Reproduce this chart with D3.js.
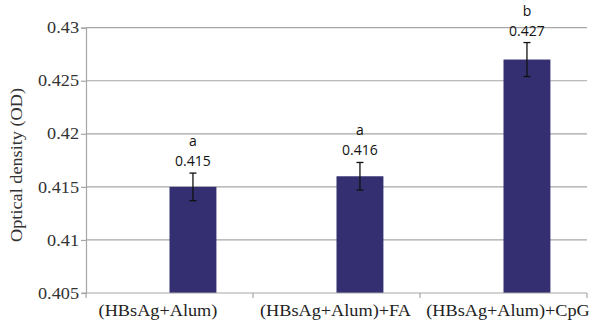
<!DOCTYPE html>
<html><head><meta charset="utf-8">
<script src="https://cdn.jsdelivr.net/npm/d3@7"></script>
<style>body{margin:0;background:#fff}</style>
</head><body>
<script>
const categories = ["(HBsAg+Alum)", "(HBsAg+Alum)+FA", "(HBsAg+Alum)+CpG"];
const values = [0.415, 0.416, 0.427];
const errors = [0.0013, 0.0013, 0.0016];
const letters = ["a", "a", "b"];
const yTicks = [0.405, 0.41, 0.415, 0.42, 0.425, 0.43];
const yTickLabels = ["0.405", "0.41", "0.415", "0.42", "0.425", "0.43"];
const seriesSlots = ["empty", "OD"];

(function () {
const W = 595, H = 323;
const SERIF = "'Liberation Serif', 'Times New Roman', serif";
const SANS = "'Open Sans', 'Liberation Sans', sans-serif";
const STRETCH = 1.14;
const svg = d3.select("body").append("svg").attr("width", W).attr("height", H);
const mLeft = 86, mRight = 587, mTop = 27.7, mBottom = 293;

const x = d3.scaleBand().domain(categories).range([mLeft, mRight]).padding(0);
const xs = d3.scaleBand().domain(seriesSlots).range([0, x.bandwidth()]).paddingInner(0).paddingOuter(0.78);
const y = d3.scaleLinear().domain([0.405, 0.43]).range([mBottom, mTop]);

function stretch(sel) {
  sel.each(function () {
    const w = this.getComputedTextLength();
    d3.select(this).attr("textLength", w * STRETCH).attr("lengthAdjust", "spacingAndGlyphs");
  });
}

// gridlines
svg.append("g").selectAll("line").data(yTicks.slice(1)).join("line")
  .attr("x1", mLeft).attr("x2", mRight)
  .attr("y1", d => y(d)).attr("y2", d => y(d))
  .attr("stroke", "#a6a6a6").attr("stroke-width", 1.2);

// y axis
const yAxis = d3.axisLeft(y).tickValues(yTicks).tickFormat((d, i) => yTickLabels[i]).tickSize(5).tickPadding(2);
const ga = svg.append("g").attr("transform", `translate(${mLeft},0)`).call(yAxis);
ga.select(".domain").attr("stroke", "#a6a6a6").attr("stroke-width", 1.2);
ga.selectAll(".tick line").attr("stroke", "#a6a6a6").attr("stroke-width", 1.2);
ga.selectAll("text").attr("font-family", SERIF).attr("font-size", 16).attr("fill", "#333").call(stretch);

// bars
svg.append("g").selectAll("rect").data(values).join("rect")
  .attr("x", (d, i) => x(categories[i]) + xs("OD"))
  .attr("width", xs.bandwidth())
  .attr("y", d => y(d))
  .attr("height", d => y(0.405) - y(d))
  .attr("fill", "#332f70");

// x axis
const xAxisG = svg.append("g");
xAxisG.append("line").attr("x1", mLeft - 4).attr("x2", mRight).attr("y1", y(0.405)).attr("y2", y(0.405))
  .attr("stroke", "#a6a6a6").attr("stroke-width", 1.2);
const bounds = [...categories.map(c => x(c)), x(categories[2]) + x.bandwidth()];
xAxisG.selectAll("line.tk").data(bounds).join("line").attr("class", "tk")
  .attr("x1", d => d).attr("x2", d => d).attr("y1", y(0.405)).attr("y2", y(0.405) + 5)
  .attr("stroke", "#a6a6a6").attr("stroke-width", 1.2);
const labelShift = [-11.5, -1, 4.5];
xAxisG.selectAll("text").data(categories).join("text")
  .attr("x", (d, i) => x(d) + x.bandwidth() / 2 + labelShift[i])
  .attr("y", 315.5)
  .attr("text-anchor", "middle")
  .attr("font-family", SERIF)
  .attr("font-size", 16).attr("fill", "#222")
  .text(d => d).call(stretch);

// error bars
const eg = svg.append("g").attr("stroke", "#111").attr("stroke-width", 1.3);
values.forEach((v, i) => {
  const cx = x(categories[i]) + xs("OD") + xs.bandwidth() / 2;
  eg.append("line").attr("x1", cx).attr("x2", cx).attr("y1", y(v + errors[i])).attr("y2", y(v - errors[i]));
  eg.append("line").attr("x1", cx - 3.5).attr("x2", cx + 3.5).attr("y1", y(v + errors[i])).attr("y2", y(v + errors[i]));
  eg.append("line").attr("x1", cx - 3.5).attr("x2", cx + 3.5).attr("y1", y(v - errors[i])).attr("y2", y(v - errors[i]));
  const ty = y(v + errors[i]);
  svg.append("text").attr("x", cx).attr("y", ty - 7).attr("text-anchor", "middle")
    .attr("font-family", SANS).attr("font-size", 14).attr("fill", "#111")
    .text(v.toFixed(3));
  svg.append("text").attr("x", cx).attr("y", ty - 27).attr("text-anchor", "middle")
    .attr("font-family", SANS).attr("font-size", 14).attr("fill", "#111")
    .text(letters[i]);
});

// y title
svg.append("text").attr("transform", `translate(22,165) rotate(-90)`)
  .attr("text-anchor", "middle")
  .attr("font-family", SERIF)
  .attr("font-size", 16).attr("fill", "#333")
  .text("Optical density (OD)").call(stretch);
})();
</script>
</body></html>
